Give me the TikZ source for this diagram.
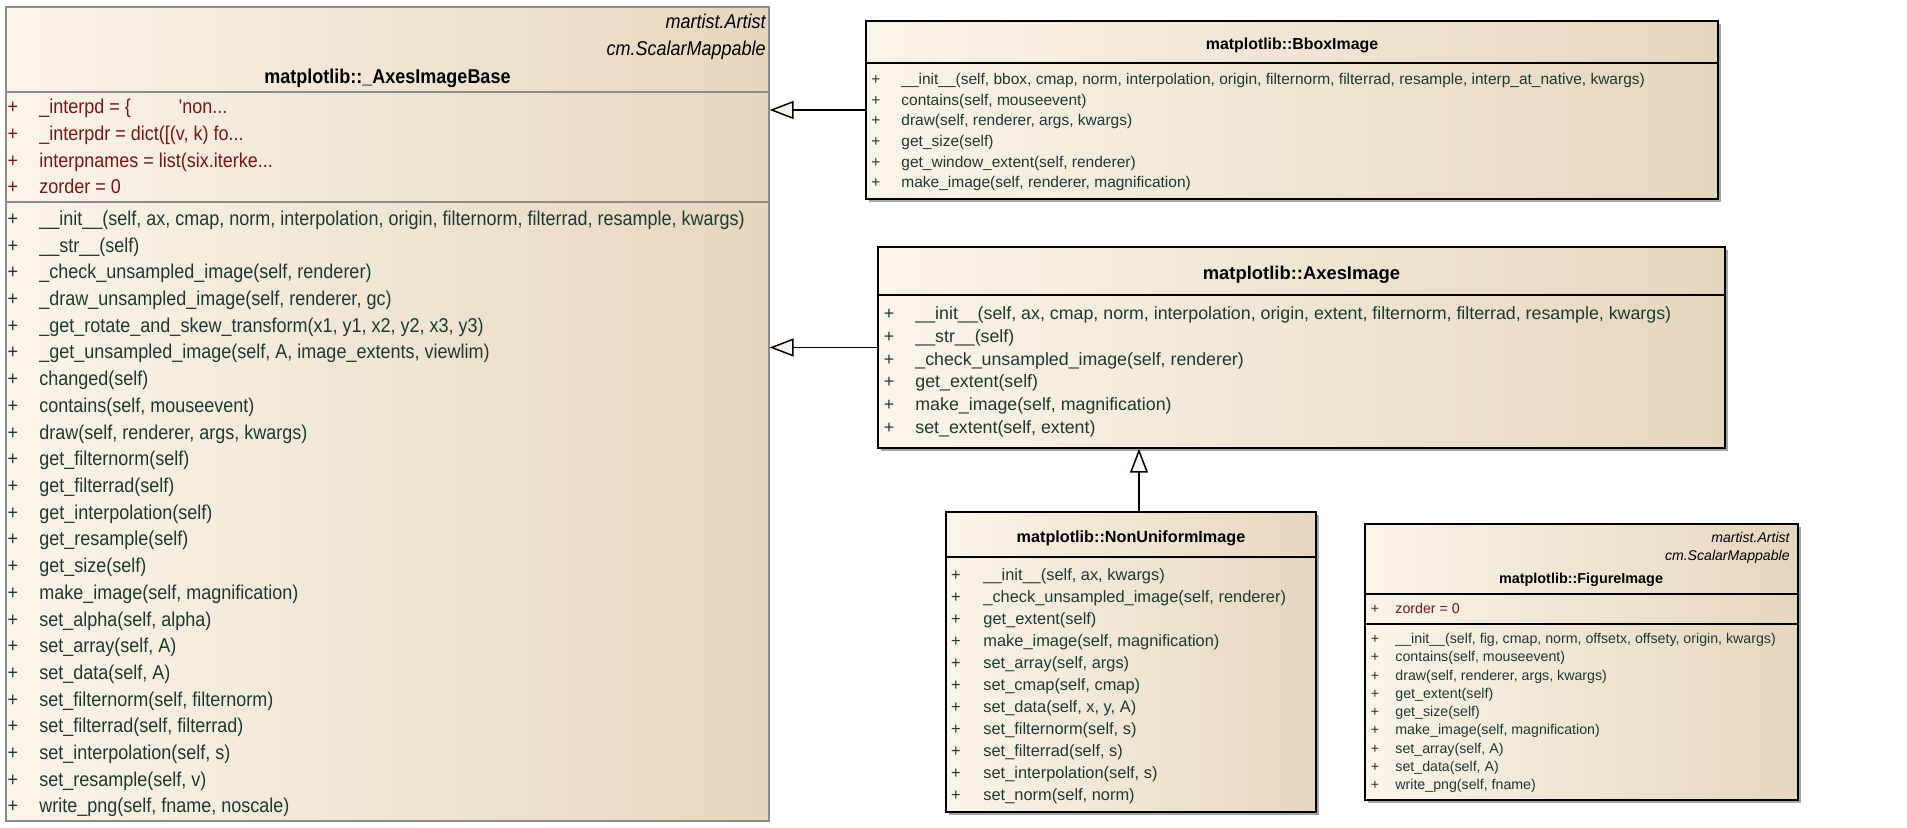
\documentclass[tikz,border=0pt]{standalone}
\usepackage{fontspec}
\setmainfont[Ligatures=TeXOff]{Liberation Sans}
\newfontfamily\narrowsans[FakeStretch=0.9,Ligatures=TeXOff]{Liberation Sans}
\usetikzlibrary{positioning,arrows.meta,calc,fit,shadows}

\definecolor{boxlight}{RGB}{251,244,233}
\definecolor{boxdark}{RGB}{230,214,190}
\definecolor{shadowgray}{RGB}{165,165,165}
\definecolor{opcol}{RGB}{28,58,52}
\definecolor{attrcol}{RGB}{122,22,22}
\definecolor{tipfill}{RGB}{250,243,232}

% truncated attribute values end in three dots
\newcommand{\cutoff}{...}

\tikzset{
  classbox/.style={draw=black,line width=0.75pt,inner sep=0pt,
    left color=boxlight,right color=boxdark,
    drop shadow={shadow xshift=1.5pt,shadow yshift=-1.5pt,fill=shadowgray,opacity=1}},
  basebox/.style={draw=black!45,line width=0.6pt,inner sep=0pt,
    left color=boxlight,right color=boxdark},
  sepline/.style={line width=0.75pt},
  basesep/.style={line width=0.6pt,black!45},
  member/.style={anchor=west,inner sep=0pt,text height=0.72em,text depth=0.22em,yshift=-0.75pt},
  plus/.style={anchor=center,inner sep=0pt,text height=0.72em,text depth=0.22em,yshift=-0.75pt},
  optext/.style={member,text=opcol},
  opplus/.style={plus,text=opcol},
  attrtext/.style={member,text=attrcol},
  attrplus/.style={plus,text=attrcol},
  clsname/.style={inner sep=0pt,text height=0.72em,text depth=0.22em,yshift=-0.75pt,font=\bfseries},
  stereo/.style={anchor=east,inner sep=0pt,text height=0.72em,text depth=0.22em,yshift=-0.75pt},
  inherit/.style={-{Triangle[length=12pt,width=9pt,fill=tipfill]},line width=0.75pt},
  basefont/.style={font=\narrowsans\fontsize{10}{12}\selectfont},
  bboxfont/.style={font=\fontsize{7.75}{9}\selectfont},
  axesfont/.style={font=\fontsize{8.9}{10}\selectfont},
  nonufont/.style={font=\fontsize{8.2}{10}\selectfont},
  figfont/.style={font=\fontsize{7.1}{9}\selectfont},
}

\begin{document}
\begin{tikzpicture}[x=0.5pt,y=-0.5pt]
  \useasboundingbox (0,0) rectangle (1907,828);
  % class boxes, corners taken from the layout grid (1 unit = 1 px)
  \node[basebox,fit={(6,7) (769,821)}] (base) {};
  \node[classbox,fit={(866,21) (1718,199)}] (bbox) {};
  \node[classbox,fit={(878,247) (1725,448)}] (axes) {};
  \node[classbox,fit={(946,512) (1316,812)}] (nonu) {};
  \node[classbox,fit={(1365,524) (1798,800)}] (fig) {};

  % --- matplotlib::_AxesImageBase ---
  \draw[basesep] (6,92) -- (769,92);
  \draw[basesep] (6,202) -- (769,202);
  \begin{scope}[basefont]
    \node[stereo,font=\narrowsans\itshape\fontsize{10}{12}\selectfont] (base-st1) at (766,22) {martist.Artist};
    \node[stereo,font=\narrowsans\itshape\fontsize{10}{12}\selectfont] (base-st2) at (766,49) {cm.ScalarMappable};
    \node[clsname,font=\narrowsans\bfseries\fontsize{10}{12}\selectfont] (base-title) at (387.5,77) {matplotlib::\_AxesImageBase};
    \foreach \a [count=\i from 0] in {%
      {\_interpd = \{\hspace{24pt}'non\cutoff},
      {\_interpdr = dict([(v, k) fo\cutoff},
      {interpnames = list(six.iterke\cutoff},
      {zorder = 0}} {
      \node[attrplus] (base-ap\i) at (13,{107+26.8*\i}) {+};
      \node[attrtext] (base-a\i) at (39,{107+26.8*\i}) {\a};
    }
    \foreach \o [count=\i from 0] in {%
      {\_\_init\_\_(self, ax, cmap, norm, interpolation, origin, filternorm, filterrad, resample, kwargs)},
      {\_\_str\_\_(self)},
      {\_check\_unsampled\_image(self, renderer)},
      {\_draw\_unsampled\_image(self, renderer, gc)},
      {\_get\_rotate\_and\_skew\_transform(x1, y1, x2, y2, x3, y3)},
      {\_get\_unsampled\_image(self, A, image\_extents, viewlim)},
      {changed(self)},
      {contains(self, mouseevent)},
      {draw(self, renderer, args, kwargs)},
      {get\_filternorm(self)},
      {get\_filterrad(self)},
      {get\_interpolation(self)},
      {get\_resample(self)},
      {get\_size(self)},
      {make\_image(self, magnification)},
      {set\_alpha(self, alpha)},
      {set\_array(self, A)},
      {set\_data(self, A)},
      {set\_filternorm(self, filternorm)},
      {set\_filterrad(self, filterrad)},
      {set\_interpolation(self, s)},
      {set\_resample(self, v)},
      {write\_png(self, fname, noscale)}} {
      \node[opplus] (base-op\i) at (13,{219+26.7*\i}) {+};
      \node[optext] (base-o\i) at (39,{219+26.7*\i}) {\o};
    }
  \end{scope}

  % --- matplotlib::BboxImage ---
  \draw[sepline] (866,63) -- (1718,63);
  \begin{scope}[bboxfont]
    \node[clsname,font=\bfseries\fontsize{7.95}{9}\selectfont] (bbox-title) at (1292,43) {matplotlib::BboxImage};
    \foreach \o [count=\i from 0] in {%
      {\_\_init\_\_(self, bbox, cmap, norm, interpolation, origin, filternorm, filterrad, resample, interp\_at\_native, kwargs)},
      {contains(self, mouseevent)},
      {draw(self, renderer, args, kwargs)},
      {get\_size(self)},
      {get\_window\_extent(self, renderer)},
      {make\_image(self, renderer, magnification)}} {
      \node[opplus] (bbox-op\i) at (876,{78+20.7*\i}) {+};
      \node[optext] (bbox-o\i) at (901,{78+20.7*\i}) {\o};
    }
  \end{scope}

  % --- matplotlib::AxesImage ---
  \draw[sepline] (878,295) -- (1725,295);
  \begin{scope}[axesfont]
    \node[clsname,font=\bfseries\fontsize{9.2}{11}\selectfont] (axes-title) at (1301.5,273) {matplotlib::AxesImage};
    \foreach \o [count=\i from 0] in {%
      {\_\_init\_\_(self, ax, cmap, norm, interpolation, origin, extent, filternorm, filterrad, resample, kwargs)},
      {\_\_str\_\_(self)},
      {\_check\_unsampled\_image(self, renderer)},
      {get\_extent(self)},
      {make\_image(self, magnification)},
      {set\_extent(self, extent)}} {
      \node[opplus] (axes-op\i) at (889,{313+22.8*\i}) {+};
      \node[optext] (axes-o\i) at (915,{313+22.8*\i}) {\o};
    }
  \end{scope}

  % --- matplotlib::NonUniformImage ---
  \draw[sepline] (946,557) -- (1316,557);
  \begin{scope}[nonufont]
    \node[clsname,font=\bfseries\fontsize{8.1}{10}\selectfont] (nonu-title) at (1131,536) {matplotlib::NonUniformImage};
    \foreach \o [count=\i from 0] in {%
      {\_\_init\_\_(self, ax, kwargs)},
      {\_check\_unsampled\_image(self, renderer)},
      {get\_extent(self)},
      {make\_image(self, magnification)},
      {set\_array(self, args)},
      {set\_cmap(self, cmap)},
      {set\_data(self, x, y, A)},
      {set\_filternorm(self, s)},
      {set\_filterrad(self, s)},
      {set\_interpolation(self, s)},
      {set\_norm(self, norm)}} {
      \node[opplus] (nonu-op\i) at (956,{574+21.95*\i}) {+};
      \node[optext] (nonu-o\i) at (983,{574+21.95*\i}) {\o};
    }
  \end{scope}

  % --- matplotlib::FigureImage ---
  \draw[sepline] (1365,594) -- (1798,594);
  \draw[sepline] (1365,624) -- (1798,624);
  \begin{scope}[figfont]
    \node[stereo,font=\itshape\fontsize{7.05}{9}\selectfont] (fig-st1) at (1790,536) {martist.Artist};
    \node[stereo,font=\itshape\fontsize{7.05}{9}\selectfont] (fig-st2) at (1790,554) {cm.ScalarMappable};
    \node[clsname,font=\bfseries\fontsize{7.2}{9}\selectfont] (fig-title) at (1581,577) {matplotlib::FigureImage};
    \node[attrplus] (fig-ap0) at (1375,607) {+};
    \node[attrtext] (fig-a0) at (1395,607) {zorder = 0};
    \foreach \o [count=\i from 0] in {%
      {\_\_init\_\_(self, fig, cmap, norm, offsetx, offsety, origin, kwargs)},
      {contains(self, mouseevent)},
      {draw(self, renderer, args, kwargs)},
      {get\_extent(self)},
      {get\_size(self)},
      {make\_image(self, magnification)},
      {set\_array(self, A)},
      {set\_data(self, A)},
      {write\_png(self, fname)}} {
      \node[opplus] (fig-op\i) at (1375,{637+18.25*\i}) {+};
      \node[optext] (fig-o\i) at (1395,{637+18.25*\i}) {\o};
    }
  \end{scope}

  % generalisations
  \draw[inherit] (bbox.west) -- (bbox.west -| base.east);
  \draw[inherit] (axes.west) -- (axes.west -| base.east);
  \draw[inherit] ([xshift=4pt]nonu.north) -- ([xshift=4pt]nonu.north |- axes.south);
\end{tikzpicture}
\end{document}
